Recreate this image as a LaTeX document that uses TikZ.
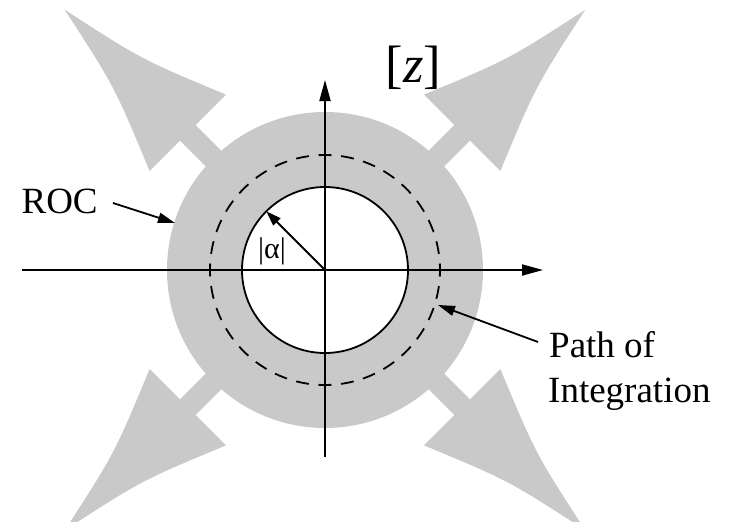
\documentclass[tikz,border=0pt]{standalone}
\usepackage{fontspec}
\setmainfont{Liberation Serif}
\newfontfamily\timesfont{Liberation Serif}
\usetikzlibrary{arrows.meta}
\definecolor{rocgray}{RGB}{201,201,201}
\begin{document}
\begin{tikzpicture}[x=1pt,y=-1pt,
  axisline/.style={line width=1.8pt,-{Triangle[length=21pt,width=11pt]}},
  ptr/.style={line width=1.8pt,-{Triangle[length=17pt,width=10pt]}},
  radptr/.style={line width=1.8pt,-{Triangle[length=15pt,width=10pt]}},
  lbl/.style={font=\timesfont\fontsize{37}{45}\selectfont, inner sep=0pt, anchor=base west},
  bigarrow/.style={fill=rocgray, draw=none}]
\useasboundingbox (0,0) rectangle (731,522);
\clip (0,0) rectangle (731,522);
\coordinate (O) at (325,270);
% four big grey arrows
\foreach \a in {45,135,225,315}{
  \fill[bigarrow, shift={(O)}, rotate=\a]
    (100,-11) -- (194,-11) -- (194,-54)
    .. controls (279,-19) .. (368,0)
    .. controls (279,19) .. (194,54)
    -- (194,11) -- (100,11) -- cycle;
}
% ROC disk
\fill[rocgray] (O) circle[radius=158pt];
% dashed path of integration
\draw[line width=1.8pt, dash pattern=on 13pt off 9.58pt, dash phase=6.5pt]
  ([xshift=115pt]O) arc[start angle=0, end angle=360, radius=115pt];
% inner circle
\filldraw[fill=white, line width=1.8pt] (O) circle[radius=83pt];
% axes
\coordinate (xl) at (22,270);
\coordinate (xr) at (543,270);
\coordinate (yb) at (325,457);
\coordinate (yt) at (325,80);
\draw[axisline] (xl) -- (xr);
\draw[axisline] (yb) -- (yt);
% radius arrow
\coordinate (A) at (266.3,211.3);
\draw[radptr] (O) -- (A);
\node[inner sep=0pt, font=\timesfont\fontsize{30}{30}\selectfont] (alpha) at (272,251) {|α|};
% z label
\node[inner sep=0pt, anchor=base west, font=\timesfont\fontsize{52.6}{52.6}\selectfont] (zlab) at (385.4,82) {[\textit{z}]};
% ROC label and pointer
\node[lbl] (roc) at (21.4,213) {ROC};
\coordinate (rocS) at (113,203);
\coordinate (rocT) at (175,223);
\draw[ptr] (rocS) -- (rocT);
% Path of integration label and pointer
\node[lbl] (path1) at (549,357) {Path of};
\node[lbl] (path2) at (548,402) {Integration};
\coordinate (pathS) at (538,342);
\coordinate (pathT) at (438,305);
\draw[ptr] (pathS) -- (pathT);
\end{tikzpicture}
\end{document}
